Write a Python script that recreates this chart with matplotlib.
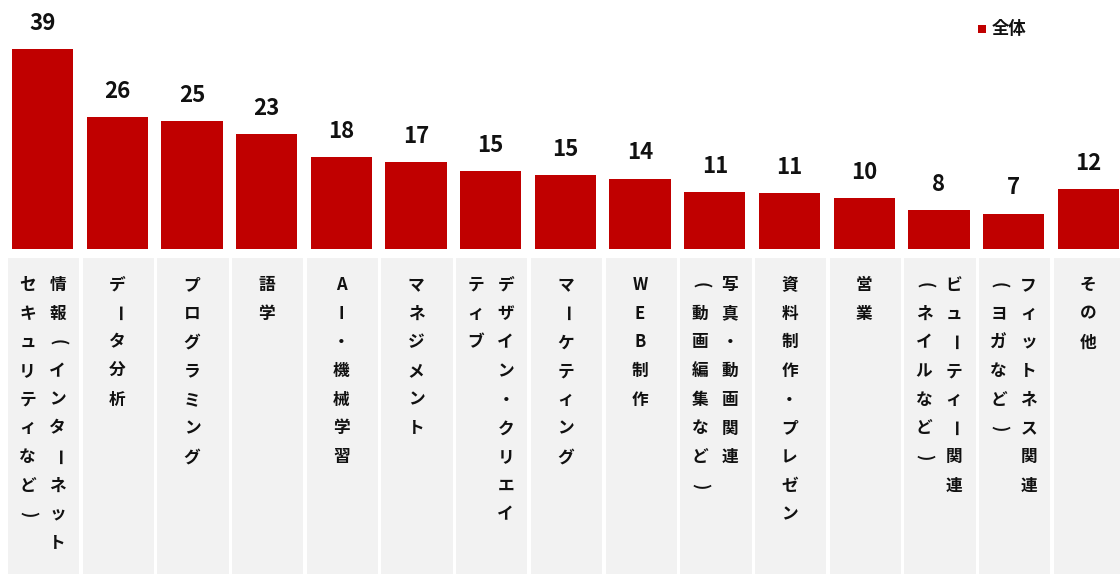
import numpy as np
import matplotlib
matplotlib.use("Agg")
import matplotlib.pyplot as plt
from matplotlib.patches import Rectangle

plt.rcParams['font.family'] = ['Noto Sans CJK JP', 'DejaVu Sans']

# categories, one string per column (read right to left), "\n" splits columns
categories = [
    "情報（インターネット\nセキュリティなど）",
    "データ分析",
    "プログラミング",
    "語学",
    "AI・機械学習",
    "マネジメント",
    "デザイン・クリエイ\nティブ",
    "マーケティング",
    "WEB制作",
    "写真・動画関連\n（動画編集など）",
    "資料制作・プレゼン",
    "営業",
    "ビューティー関連\n（ネイルなど）",
    "フィットネス関連\n（ヨガなど）",
    "その他",
]
heights = [39.4, 26.0, 25.3, 22.7, 18.1, 17.1, 15.4, 14.5, 13.9, 11.3, 11.0, 10.1, 7.7, 7.0, 11.8]
value_labels = [39, 26, 25, 23, 18, 17, 15, 15, 14, 11, 11, 10, 8, 7, 12]
series_name = "全体"

RED = "#c00000"
BOX = "#f2f2f2"

# glyphs turned a quarter turn in vertical writing (parens swapped for
# their half-width forms so the ink stays centred in the cell)
ROTATED = {"ー": "ー", "（": "(", "）": ")"}

W, H = 1120, 574
fig = plt.figure(figsize=(W / 100, H / 100), dpi=100)

px_per_unit = 74.7        # horizontal pitch of one category
x_lo = -42.5 / px_per_unit
x_hi = (W - 42.5) / px_per_unit
base_y = 249              # pixel row of the bar baseline
px_per_val = 5.07

x = np.arange(len(categories))

# bars
ax = fig.add_axes([0, (H - base_y) / H, 1, base_y / H])
ax.set_xlim(x_lo, x_hi)
ax.set_ylim(0, base_y / px_per_val)
ax.bar(x, heights, width=0.82, color=RED)
for xi, h, lab in zip(x, heights, value_labels):
    ax.annotate(str(lab), (xi, h), xytext=(0, 19.2 * 0.72), textcoords="offset points",
                ha="center", va="baseline", fontsize=16, fontweight="bold", color="#111111")
ax.axis("off")

# label area with grey boxes and vertical text
box_top = 258
lax = fig.add_axes([0, 0, 1, (H - box_top) / H])
lax.set_xlim(x_lo, x_hi)
lax.set_ylim(H - box_top, 0)
lax.axis("off")

col_gap = 15 / px_per_unit
for xi, cat in zip(x, categories):
    lax.add_patch(Rectangle((xi - 0.955 / 2 + 0.015, 0), 0.955, H - box_top,
                            facecolor=BOX, edgecolor="none"))
    cols = cat.split("\n")
    n = len(cols)
    for j, col in enumerate(cols):
        cx = xi + (col_gap * (n - 1) - 2 * col_gap * j)
        for i, ch in enumerate(col):
            if ch in ROTATED:
                ch, rot = ROTATED[ch], -90
            else:
                rot = 0
            lax.text(cx, 27 + 28.7 * i, ch, ha="center", va="center",
                     rotation=rot, rotation_mode="anchor",
                     fontsize=12, fontweight="bold", color="#111111")

# legend
fig.add_artist(Rectangle((977.7 / W, 1 - 33.3 / H), 8 / W, 8 / H,
                         transform=fig.transFigure, facecolor=RED, edgecolor="none"))
fig.text(992 / W, 1 - 29.5 / H, series_name, ha="left", va="center",
         fontsize=12.5, fontweight="bold", color="#111111")

fig.savefig("out.png", dpi=100)
